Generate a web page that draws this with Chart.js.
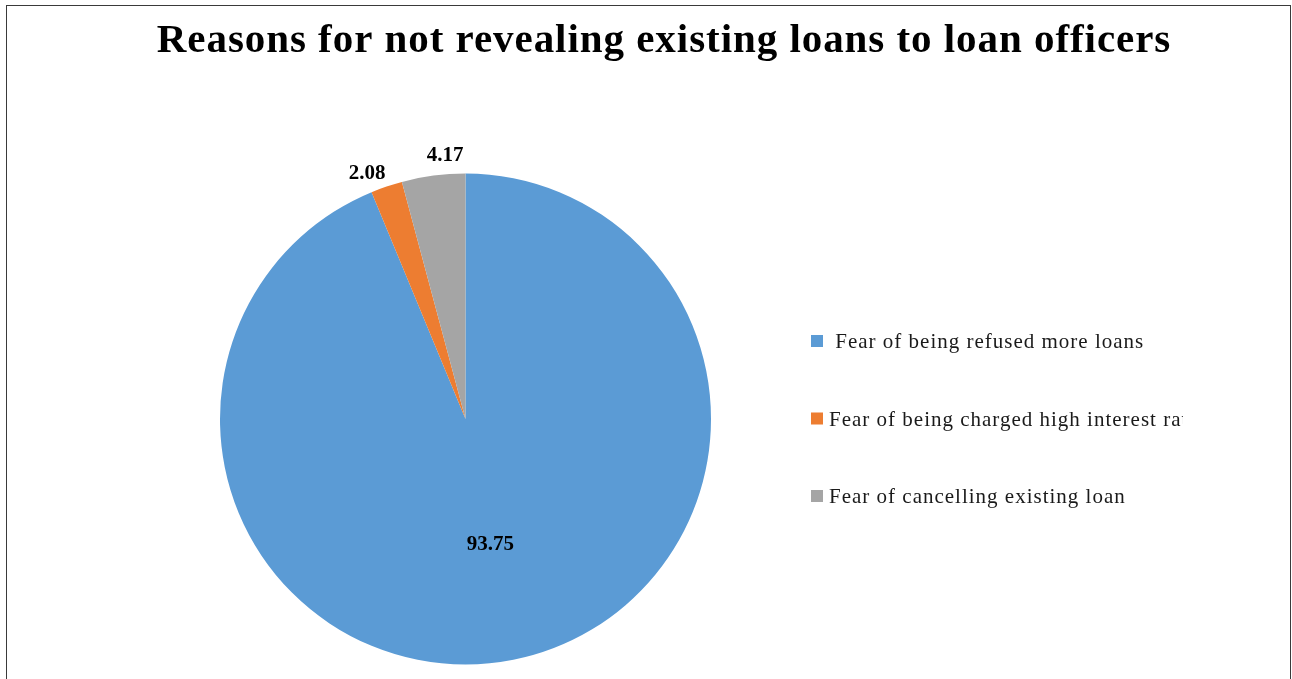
<!DOCTYPE html>
<html>
<head>
<meta charset="utf-8">
<title>Reasons for not revealing existing loans to loan officers</title>
<script src="https://cdn.jsdelivr.net/npm/chart.js@4/dist/chart.umd.min.js"></script>
<style>
    html, body {
        margin: 0;
        padding: 0;
        background: #ffffff;
        overflow: hidden;
    }
    .frame {
        position: absolute;
        left: 6px;
        top: 5px;
        width: 1285px;
        height: 720px;
        border: 1.5px solid #3a3a3a;
        box-sizing: border-box;
    }
    .chart-wrap {
        position: absolute;
        left: 0;
        top: 0;
        width: 1292px;
        height: 679px;
    }
</style>
</head>
<body>
<div class="frame"></div>
<div class="chart-wrap"><canvas id="reasons-chart"></canvas></div>
<script>
const TITLE = 'Reasons for not revealing existing loans to loan officers';
const LABELS = [
    ' Fear of being refused more loans',
    'Fear of being charged high interest rate',
    'Fear of cancelling existing loan'
];
const VALUES = [93.75, 2.08, 4.17];
const COLORS = ['#5B9BD5', '#ED7D31', '#A5A5A5'];

const SERIF = '"Liberation Serif", "DejaVu Serif", serif';
const MIN_LABEL_GAP = 80;

// value labels: big slices get the label inside, thin ones just outside the rim
const valueLabels = {
    id: 'valueLabels',
    afterDatasetsDraw(chart) {
        const { ctx } = chart;
        const meta = chart.getDatasetMeta(0);
        const total = VALUES.reduce((sum, v) => sum + v, 0);

        const placed = meta.data.map((arc, i) => {
            const { x, y, startAngle, endAngle, outerRadius } = arc.getProps(['x', 'y', 'startAngle', 'endAngle', 'outerRadius'], true);
            const mid = (startAngle + endAngle) / 2;
            const outside = VALUES[i] / total < 0.1;
            const r = outside ? outerRadius + 17 : outerRadius * 0.52;
            return { i, outside, x: x + Math.cos(mid) * r, y: y + Math.sin(mid) * r };
        });

        // spread neighbouring outside labels so they don't crowd each other
        const outer = placed.filter((p) => p.outside);
        for (let a = 0; a < outer.length; a += 1) {
            for (let b = a + 1; b < outer.length; b += 1) {
                const p = outer[a];
                const q = outer[b];
                const dx = q.x - p.x;
                const dy = q.y - p.y;
                const dist = Math.hypot(dx, dy) || 1;
                if (dist < MIN_LABEL_GAP) {
                    const push = (MIN_LABEL_GAP - dist) / 2;
                    p.x -= dx / dist * push;
                    p.y -= dy / dist * push;
                    q.x += dx / dist * push;
                    q.y += dy / dist * push;
                }
            }
        }

        ctx.save();
        ctx.font = `bold 21px ${SERIF}`;
        ctx.fillStyle = '#000000';
        ctx.textAlign = 'center';
        ctx.textBaseline = 'middle';
        placed.forEach((p) => {
            ctx.fillText(VALUES[p.i].toFixed(2), p.x, p.y);
        });
        ctx.restore();
    }
};

// title and the side legend, the long entry clipped at the plot edge
const decorations = {
    id: 'decorations',
    afterDraw(chart) {
        const { ctx } = chart;
        ctx.save();
        ctx.font = `bold 41px ${SERIF}`;
        ctx.letterSpacing = '0.95px';
        ctx.fillStyle = '#000000';
        ctx.textAlign = 'center';
        ctx.textBaseline = 'alphabetic';
        ctx.fillText(TITLE, 664, 52);
        ctx.restore();

        ctx.save();
        ctx.beginPath();
        ctx.rect(790, 300, 393, 240);
        ctx.clip();
        ctx.font = `21px ${SERIF}`;
        ctx.letterSpacing = '1px';
        ctx.textAlign = 'left';
        ctx.textBaseline = 'alphabetic';
        LABELS.forEach((label, i) => {
            const y = 348 + i * 77.5;
            ctx.fillStyle = COLORS[i];
            ctx.fillRect(811, y - 13, 12, 12);
            ctx.fillStyle = '#1a1a1a';
            ctx.fillText(label, 829, y);
        });
        ctx.restore();
    }
};

function renderChart() {
    const canvas = document.getElementById('reasons-chart');
    const ctx = canvas.getContext('2d');

    return new Chart(ctx, {
        type: 'pie',
        data: {
            labels: LABELS,
            datasets: [{
                data: VALUES,
                backgroundColor: COLORS,
                borderWidth: 0,
                hoverOffset: 0,
                offset: 0
            }]
        },
        options: {
            responsive: true,
            maintainAspectRatio: false,
            animation: false,
            layout: {
                padding: { left: 220, top: 173, right: 581, bottom: 14 }
            },
            plugins: {
                legend: { display: false },
                title: { display: false },
                tooltip: { enabled: false }
            }
        },
        plugins: [valueLabels, decorations]
    });
}

renderChart();
</script>
</body>
</html>
